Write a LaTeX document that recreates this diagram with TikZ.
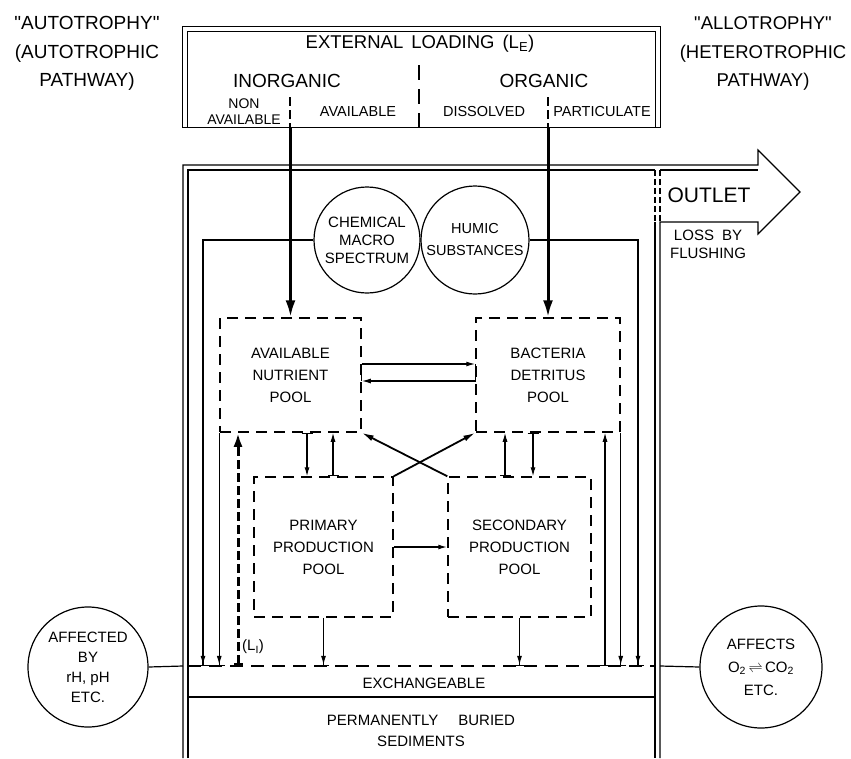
\documentclass[tikz,border=0pt]{standalone}
\usepackage{fontspec}
\setmainfont{Liberation Sans}
\usetikzlibrary{arrows.meta,calc}
\newcommand\pxfont[2]{\fontsize{#1}{#2}\selectfont}

\begin{document}
\begin{tikzpicture}[x=1pt,y=-1pt,
  lab/.style={inner sep=0pt, align=center, font=\pxfont{15}{22}},
  pool/.style={draw, line width=1.5pt, dash pattern=on 11pt off 7pt, inner sep=0pt,
               align=center, font=\pxfont{15}{22}},
  ring/.style={draw, circle, line width=1.2pt, inner sep=0pt, align=center},
  wall/.style={line width=1.2pt},
  divider/.style={line width=1.2pt, dash pattern=on 15pt off 9pt},
  flow/.style={line width=1.1pt, -{Latex[length=9pt,width=5pt]}},
  uptick/.style={line width=1.1pt, {Bar[width=11pt]}-{Latex[length=9pt,width=5pt]}},
  ontick/.style={line width=1.1pt, -{Latex[length=9pt,width=5pt] Bar[width=11pt]}},
  cross/.style={line width=1.8pt, -{Latex[length=12pt,width=6pt]}},
  feed/.style={line width=3pt, -{Latex[length=17pt,width=10pt]}},
  leak/.style={line width=3pt, dash pattern=on 9pt off 4pt, {Bar[width=9pt]}-{Latex[length=14pt,width=9pt]}}
]
\useasboundingbox (0,0) rectangle (851,758);

% pathway headings
\node[align=center, inner sep=0pt, font=\pxfont{19}{28.5}] (auto) at (87,53.5)
  {\textquotedbl AUTOTROPHY\textquotedbl\\(AUTOTROPHIC\\PATHWAY)};
\node[align=center, inner sep=0pt, font=\pxfont{18.5}{28.5}] (allo) at (763,53.5)
  {\textquotedbl ALLOTROPHY\textquotedbl\\(HETEROTROPHIC\\PATHWAY)};

% external loading box (double frame)
\node[minimum width=477pt, minimum height=100pt, inner sep=0pt] (load) at (421.5,77) {};
\draw[wall] (load.south west) rectangle (load.north east);
\draw[wall] ([xshift=5pt]load.south west) |- ([xshift=-5pt,yshift=-5pt]load.north east)
  -- ([xshift=-5pt]load.south east);
\draw[divider] (419,65) -- (419,127);
\draw[divider, dash pattern=on 9pt off 4pt] (290,97) -- (290,127);
\draw[divider, dash pattern=on 9pt off 4pt] (548,97) -- (548,127);

\node[inner sep=0pt, font=\pxfont{18.5}{22}] (ext) at (420,44)
  {EXTERNAL\hspace{8pt}LOADING\hspace{8pt}(L\textsubscript{E})};
\node[inner sep=0pt, font=\pxfont{19}{22}] (inorg) at (287,81) {INORGANIC};
\node[inner sep=0pt, font=\pxfont{19}{22}] (org) at (544,81) {ORGANIC};
\node[lab, font=\pxfont{14}{15.5}] (nonav) at (244,111.5) {NON\\AVAILABLE};
\node[lab, font=\pxfont{14.5}{18}] (avail) at (358,112) {AVAILABLE};
\node[lab, font=\pxfont{14.5}{18}] (diss) at (484,112) {DISSOLVED};
\node[lab, font=\pxfont{14.5}{18}] (part) at (602,112) {PARTICULATE};

% lake basin frame with outlet arrow
\draw[wall] (183,758) -- (183,165) -- (758,165) -- (758,150) -- (800,192)
  -- (758,234) -- (758,222) -- (660,222) -- (660,758);
\draw[wall] (188,758) -- (188,170) -- (655,170);
\draw[wall] (660,170) -- (758,170);
\draw[wall, dash pattern=on 6pt off 3pt] (655,170) -- (655,222);
\draw[wall, dash pattern=on 6pt off 3pt] (660,170) -- (660,222);
\draw[wall] (655,222) -- (655,758);

\node[inner sep=0pt, font=\pxfont{21}{24}] (outlet) at (709,195) {OUTLET};
\node[lab, font=\pxfont{15}{18}] (flush) at (708,244) {LOSS\hspace{8pt}BY\\FLUSHING};

% sediment layers
\draw[wall, line width=1.5pt, dash pattern=on 13pt off 8pt] (188,666) -- (655,666);
\draw[wall] (188,697) -- (655,697);
\node[lab] (exch) at (424,683) {EXCHANGEABLE};
\node[lab, font=\pxfont{15}{21}] (sed) at (421,730.5)
  {PERMANENTLY\hspace{20pt}BURIED\\SEDIMENTS};

% circles
\node[ring, minimum size=106pt, font=\pxfont{15}{18}] (chem) at (367,240)
  {CHEMICAL\\MACRO\\SPECTRUM};
\node[ring, minimum size=108pt, font=\pxfont{14.5}{22}] (humic) at (475,240)
  {HUMIC\\SUBSTANCES};
\node[ring, minimum size=120pt, font=\pxfont{15}{20}] (affby) at (88,667)
  {AFFECTED\\BY\\rH, pH\\ETC.};
\node[ring, minimum size=122pt, font=\pxfont{15}{23}] (affects) at (761,667)
  {AFFECTS\\O\textsubscript{2}\,$\rightleftharpoons$\,CO\textsubscript{2}\\ETC.};

% pools
\node[pool, minimum width=141pt, minimum height=114pt] (anp) at (290.5,375)
  {AVAILABLE\\NUTRIENT\\POOL};
\node[pool, minimum width=144pt, minimum height=114pt] (bdp) at (548,375)
  {BACTERIA\\DETRITUS\\POOL};
\node[pool, minimum width=139pt, minimum height=140pt] (ppp) at (323.5,547)
  {PRIMARY\\PRODUCTION\\POOL};
\node[pool, minimum width=143pt, minimum height=140pt] (spp) at (519.5,547)
  {SECONDARY\\PRODUCTION\\POOL};

% reference coordinates
\coordinate (ex) at (421,666);
\coordinate (wl) at (183,666);
\coordinate (wr) at (660,666);
\coordinate (xa) at (203,666);
\coordinate (xf) at (638,666);
\coordinate (li) at (238,666);
\coordinate (ru) at (605,666);
\coordinate (l1) at (0,364);
\coordinate (l2) at (0,381);
\coordinate (d1) at (307,0);
\coordinate (d2) at (333,0);
\coordinate (d3) at (505,0);
\coordinate (d4) at (533,0);

% external inputs
\draw[feed] (anp.north |- load.south) -- (anp.north);
\draw[feed] (bdp.north |- load.south) -- (bdp.north);

% exchange between nutrient and detritus pools
\draw[line width=1.3pt] (anp.east |- l1) -- (anp.east |- l2);
\draw[flow, line width=1.3pt] (anp.east |- l1) -- (bdp.west |- l1);
\draw[flow, line width=1.3pt] (bdp.west |- l1) -- (bdp.west |- l2) -- (anp.east |- l2);

% exchange between upper and lower pools
\draw[uptick] (anp.south -| d1) -- (ppp.north -| d1);
\draw[uptick] (ppp.north -| d2) -- (anp.south -| d2);
\draw[uptick] (spp.north -| d3) -- (bdp.south -| d3);
\draw[uptick] (bdp.south -| d4) -- (spp.north -| d4);
\draw[cross] (ppp.north east) -- (bdp.south west);
\draw[cross] (spp.north west) -- (anp.south east);
\draw[flow, line width=1.5pt] (ppp.east) -- (spp.west);

% settling to and release from sediments
\draw[ontick] (ppp.south) -- (ppp.south |- ex);
\draw[ontick] (spp.south) -- (spp.south |- ex);
\draw[ontick] (chem.west) -| (xa);
\draw[ontick] (humic.east) -| (xf);
\draw[ontick] (anp.south west) -- (anp.south west |- ex);
\draw[ontick] (bdp.south east) -- (bdp.south east |- ex);
\draw[leak] (li) -- (li |- anp.south);
\draw[uptick] (ru) -- (ru |- bdp.south);
\node[lab, anchor=west] (lint) at (242,647) {(L\textsubscript{I})};

% influences on the sediment interface
\draw[wall] (affby.east) -- (wl);
\draw[wall] (wr) -- (affects.west);
\end{tikzpicture}
\end{document}
